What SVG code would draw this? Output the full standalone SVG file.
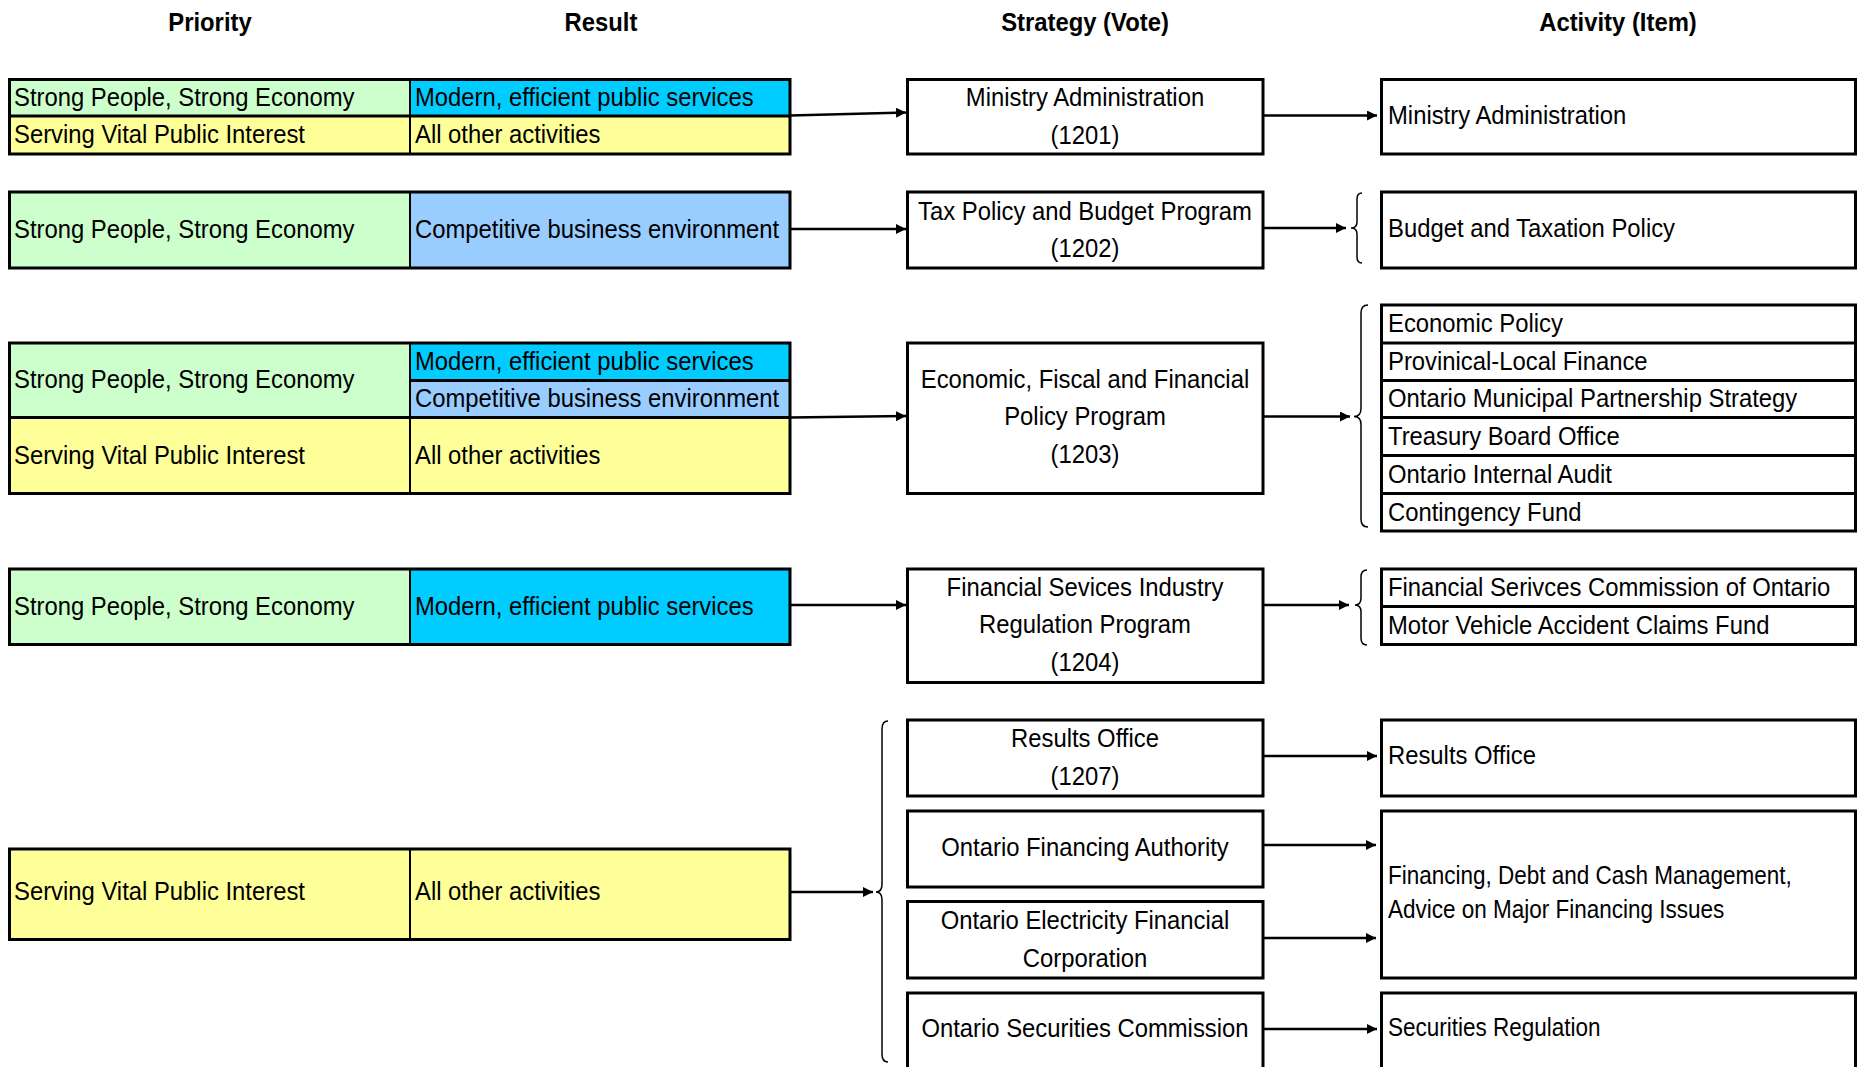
<svg xmlns="http://www.w3.org/2000/svg" width="1860" height="1067" viewBox="0 0 1860 1067">
  <defs>
    <marker id="arrow" markerUnits="userSpaceOnUse" markerWidth="12" markerHeight="11" refX="10" refY="5" orient="auto">
      <path d="M0,0 L10,5 L0,10 z" fill="#000"/>
    </marker>
  </defs>
  <style>
    .t{font-family:"Liberation Sans",Arial,sans-serif;font-size:26.5px;fill:#000;transform-box:fill-box;transform-origin:0 50%;transform:scaleX(0.9)}
    .h{font-weight:bold;text-anchor:middle;transform-origin:50% 50%}
    .c{text-anchor:middle;transform-origin:50% 50%}
    .s{font-size:25px;transform:scaleX(0.9)}
    .box{fill:#fff;stroke:#000;stroke-width:3}
    .frame{fill:none;stroke:#000;stroke-width:3}
    .rule{stroke:#000;stroke-width:3}
    .vdiv{stroke:#000;stroke-width:2}
    .green{fill:#CCFFCC}
    .yellow{fill:#FFFF99}
    .cyan{fill:#00CCFF}
    .blue{fill:#99CCFF}
    .conn{fill:none;stroke:#000;stroke-width:2.5;marker-end:url(#arrow)}
    .brace{fill:none;stroke:#000;stroke-width:1.5}
  </style>

  <!-- column headings -->
  <g id="headings">
    <text class="t h" x="210" y="31">Priority</text>
    <text class="t h" x="601" y="31">Result</text>
    <text class="t h" x="1085" y="31">Strategy (Vote)</text>
    <text class="t h" x="1618" y="31">Activity (Item)</text>
  </g>

  <!-- priority / result tables -->
  <g id="pr-1201">
    <rect class="green" x="9.5" y="79.5" width="400.5" height="36.5"/>
    <rect class="cyan" x="410" y="79.5" width="380" height="36.5"/>
    <rect class="yellow" x="9.5" y="116" width="780.5" height="38"/>
    <line class="rule" x1="9.5" y1="116" x2="790" y2="116"/>
    <line class="vdiv" x1="410" y1="79.5" x2="410" y2="154"/>
    <rect class="frame" x="9.5" y="79.5" width="780.5" height="74.5"/>
    <text class="t" x="14" y="106">Strong People, Strong Economy</text>
    <text class="t" x="415" y="106">Modern, efficient public services</text>
    <text class="t" x="14" y="143.5">Serving Vital Public Interest</text>
    <text class="t" x="415" y="143.5">All other activities</text>
  </g>

  <g id="pr-1202">
    <rect class="green" x="9.5" y="192" width="400.5" height="76"/>
    <rect class="blue" x="410" y="192" width="380" height="76"/>
    <line class="vdiv" x1="410" y1="192" x2="410" y2="268"/>
    <rect class="frame" x="9.5" y="192" width="780.5" height="76"/>
    <text class="t" x="14" y="238.5">Strong People, Strong Economy</text>
    <text class="t" x="415" y="238.5">Competitive business environment</text>
  </g>

  <g id="pr-1203">
    <rect class="green" x="9.5" y="343" width="400.5" height="74.5"/>
    <rect class="cyan" x="410" y="343" width="380" height="37.5"/>
    <rect class="blue" x="410" y="380.5" width="380" height="37"/>
    <rect class="yellow" x="9.5" y="417.5" width="780.5" height="76"/>
    <line class="rule" x1="410" y1="380.5" x2="790" y2="380.5"/>
    <line class="rule" x1="9.5" y1="417.5" x2="790" y2="417.5"/>
    <line class="vdiv" x1="410" y1="343" x2="410" y2="493.5"/>
    <rect class="frame" x="9.5" y="343" width="780.5" height="150.5"/>
    <text class="t" x="14" y="388.5">Strong People, Strong Economy</text>
    <text class="t" x="415" y="370">Modern, efficient public services</text>
    <text class="t" x="415" y="407.5">Competitive business environment</text>
    <text class="t" x="14" y="464">Serving Vital Public Interest</text>
    <text class="t" x="415" y="464">All other activities</text>
  </g>

  <g id="pr-1204">
    <rect class="green" x="9.5" y="569" width="400.5" height="75.5"/>
    <rect class="cyan" x="410" y="569" width="380" height="75.5"/>
    <line class="vdiv" x1="410" y1="569" x2="410" y2="644.5"/>
    <rect class="frame" x="9.5" y="569" width="780.5" height="75.5"/>
    <text class="t" x="14" y="615">Strong People, Strong Economy</text>
    <text class="t" x="415" y="615">Modern, efficient public services</text>
  </g>

  <g id="pr-other">
    <rect class="yellow" x="9.5" y="849" width="780.5" height="90.5"/>
    <line class="vdiv" x1="410" y1="849" x2="410" y2="939.5"/>
    <rect class="frame" x="9.5" y="849" width="780.5" height="90.5"/>
    <text class="t" x="14" y="900.5">Serving Vital Public Interest</text>
    <text class="t" x="415" y="900.5">All other activities</text>
  </g>

  <!-- strategy (vote) boxes -->
  <g id="vote-1201">
    <rect class="box" x="907.5" y="79.5" width="355.5" height="74.5"/>
    <text class="t c" x="1085" y="106.5">Ministry Administration</text>
    <text class="t c" x="1085" y="144">(1201)</text>
  </g>
  <g id="vote-1202">
    <rect class="box" x="907.5" y="192" width="355.5" height="76"/>
    <text class="t c" x="1085" y="220">Tax Policy and Budget Program</text>
    <text class="t c" x="1085" y="257.5">(1202)</text>
  </g>
  <g id="vote-1203">
    <rect class="box" x="907.5" y="343" width="355.5" height="150.5"/>
    <text class="t c" x="1085" y="388.5">Economic, Fiscal and Financial</text>
    <text class="t c" x="1085" y="425.5">Policy Program</text>
    <text class="t c" x="1085" y="463.5">(1203)</text>
  </g>
  <g id="vote-1204">
    <rect class="box" x="907.5" y="569" width="355.5" height="113.5"/>
    <text class="t c" x="1085" y="596.5">Financial Sevices Industry</text>
    <text class="t c" x="1085" y="633.5">Regulation Program</text>
    <text class="t c" x="1085" y="671.5">(1204)</text>
  </g>
  <g id="vote-1207">
    <rect class="box" x="907.5" y="720" width="355.5" height="76"/>
    <text class="t c" x="1085" y="747.5">Results Office</text>
    <text class="t c" x="1085" y="785.5">(1207)</text>
  </g>
  <g id="vote-ofa">
    <rect class="box" x="907.5" y="811" width="355.5" height="76"/>
    <text class="t c" x="1085" y="856.5">Ontario Financing Authority</text>
  </g>
  <g id="vote-oefc">
    <rect class="box" x="907.5" y="901.5" width="355.5" height="76.5"/>
    <text class="t c" x="1085" y="929.5">Ontario Electricity Financial</text>
    <text class="t c" x="1085" y="967.5">Corporation</text>
  </g>
  <g id="vote-osc">
    <rect class="box" x="907.5" y="993" width="355.5" height="85"/>
    <text class="t c" x="1085" y="1037.5">Ontario Securities Commission</text>
  </g>

  <!-- activity (item) boxes -->
  <g id="item-admin">
    <rect class="box" x="1381.5" y="79.5" width="474" height="74.5"/>
    <text class="t" x="1388" y="124">Ministry Administration</text>
  </g>
  <g id="item-budget">
    <rect class="box" x="1381.5" y="192" width="474" height="76"/>
    <text class="t" x="1388" y="237.5">Budget and Taxation Policy</text>
  </g>
  <g id="item-1203">
    <rect class="box" x="1381.5" y="305" width="474" height="226"/>
    <line class="rule" x1="1381.5" y1="343" x2="1855.5" y2="343"/>
    <line class="rule" x1="1381.5" y1="380.5" x2="1855.5" y2="380.5"/>
    <line class="rule" x1="1381.5" y1="417.5" x2="1855.5" y2="417.5"/>
    <line class="rule" x1="1381.5" y1="455.5" x2="1855.5" y2="455.5"/>
    <line class="rule" x1="1381.5" y1="493.5" x2="1855.5" y2="493.5"/>
    <text class="t" x="1388" y="332.5">Economic Policy</text>
    <text class="t" x="1388" y="370">Provinical-Local Finance</text>
    <text class="t" x="1388" y="407.5">Ontario Municipal Partnership Strategy</text>
    <text class="t" x="1388" y="445">Treasury Board Office</text>
    <text class="t" x="1388" y="483">Ontario Internal Audit</text>
    <text class="t" x="1388" y="521">Contingency Fund</text>
  </g>
  <g id="item-1204">
    <rect class="box" x="1381.5" y="569" width="474" height="75.5"/>
    <line class="rule" x1="1381.5" y1="606.5" x2="1855.5" y2="606.5"/>
    <text class="t" x="1388" y="596">Financial Serivces Commission of Ontario</text>
    <text class="t" x="1388" y="634">Motor Vehicle Accident Claims Fund</text>
  </g>
  <g id="item-results">
    <rect class="box" x="1381.5" y="720" width="474" height="76"/>
    <text class="t" x="1388" y="764.5">Results Office</text>
  </g>
  <g id="item-financing">
    <rect class="box" x="1381.5" y="811" width="474" height="167"/>
    <text class="t s" x="1388" y="884.5">Financing, Debt and Cash Management,</text>
    <text class="t s" x="1388" y="918.5">Advice on Major Financing Issues</text>
  </g>
  <g id="item-securities">
    <rect class="box" x="1381.5" y="993" width="474" height="85"/>
    <text class="t s" x="1388" y="1036.5">Securities Regulation</text>
  </g>

  <!-- connectors and grouping braces -->
  <g id="connectors">
    <line class="conn" x1="790" y1="115.5" x2="906" y2="112.5"/>
    <line class="conn" x1="790" y1="229" x2="906" y2="229"/>
    <line class="conn" x1="790" y1="417.5" x2="906" y2="416"/>
    <line class="conn" x1="790" y1="605" x2="906" y2="605"/>
    <line class="conn" x1="790" y1="892" x2="873" y2="892"/>

    <line class="conn" x1="1263" y1="115.5" x2="1377" y2="115.5"/>
    <line class="conn" x1="1263" y1="228" x2="1346" y2="228"/>
    <line class="conn" x1="1263" y1="416.5" x2="1350" y2="416.5"/>
    <line class="conn" x1="1263" y1="605" x2="1349" y2="605"/>
    <line class="conn" x1="1263" y1="756" x2="1377" y2="756"/>
    <line class="conn" x1="1263" y1="845" x2="1376" y2="845"/>
    <line class="conn" x1="1263" y1="938" x2="1376" y2="938"/>
    <line class="conn" x1="1263" y1="1029" x2="1377" y2="1029"/>

    <path class="brace" d="M888,721 Q882,721 882,729 L882,884 Q882,892 876,892 Q882,892 882,900 L882,1054 Q882,1062 888,1062"/>
    <path class="brace" d="M1362,193 Q1357,193 1357,199 L1357,222 Q1357,228 1351,228 Q1357,228 1357,234 L1357,257 Q1357,263 1362,263"/>
    <path class="brace" d="M1368,305 Q1361,305 1361,313 L1361,408.5 Q1361,416.5 1354,416.5 Q1361,416.5 1361,424.5 L1361,519 Q1361,527 1368,527"/>
    <path class="brace" d="M1367,570 Q1361,570 1361,577 L1361,598 Q1361,605 1355,605 Q1361,605 1361,612 L1361,638 Q1361,645 1367,645"/>
  </g>
</svg>
